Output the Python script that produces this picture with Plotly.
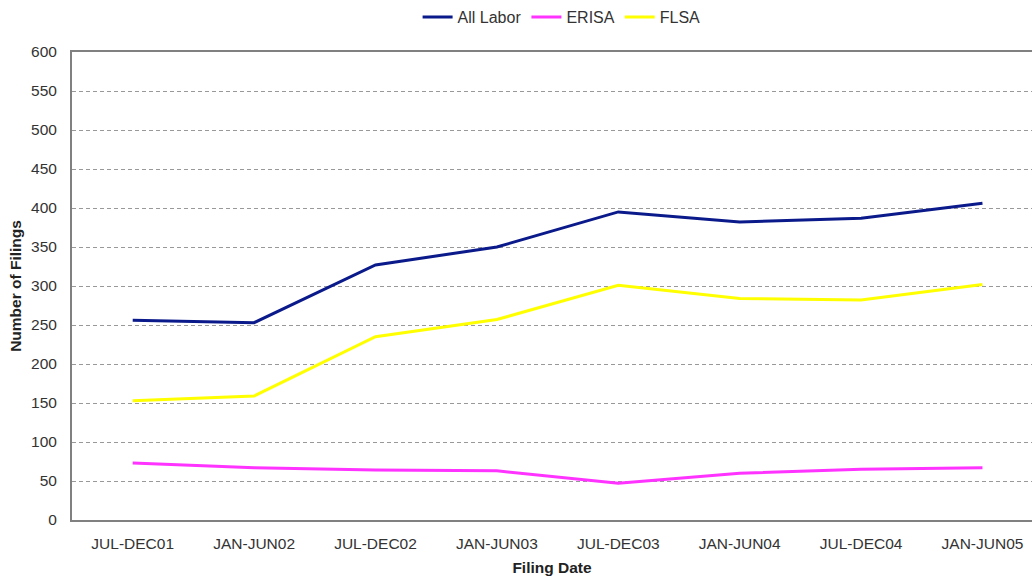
import plotly.graph_objects as go

categories = ["JUL-DEC01", "JAN-JUN02", "JUL-DEC02", "JAN-JUN03",
              "JUL-DEC03", "JAN-JUN04", "JUL-DEC04", "JAN-JUN05"]
all_labor = [256, 253, 327, 350, 395, 382, 387, 406]
erisa = [73, 67, 64, 63, 47, 60, 65, 67]
flsa = [153, 159, 235, 257, 301, 284, 282, 302]
y_ticks = list(range(0, 601, 50))

fig = go.Figure()
fig.add_trace(go.Scatter(x=categories, y=all_labor, name="All Labor", mode="lines",
                         line=dict(color="#0b1a8a", width=3)))
fig.add_trace(go.Scatter(x=categories, y=erisa, name="ERISA", mode="lines",
                         line=dict(color="#ff33ff", width=3)))
fig.add_trace(go.Scatter(x=categories, y=flsa, name="FLSA", mode="lines",
                         line=dict(color="#ffff00", width=3)))

font = dict(family="Liberation Sans, Arial, sans-serif", size=15.5, color="#333")
fig.update_layout(
    width=1032, height=580,
    margin=dict(l=72, r=0, t=52, b=60),
    paper_bgcolor="white", plot_bgcolor="white",
    font=font,
    showlegend=True,
    legend=dict(orientation="h", x=0.51, xanchor="center", y=1.0, yref="container",
                yanchor="top", font=dict(size=16), itemwidth=30, tracegroupgap=0),
    xaxis=dict(
        type="category", range=[-0.5, 7.408], showgrid=False,
        showline=True, linecolor="#808080", linewidth=2, mirror=True,
        ticks="", tickfont=dict(size=15.5), ticklabelstandoff=8,
        title=dict(text="<b>Filing Date</b>", font=dict(size=15.5, color="#222"), standoff=12),
    ),
    yaxis=dict(
        range=[0, 600], tickvals=y_ticks, showgrid=True, gridcolor="#999",
        griddash="4px,3px", gridwidth=1, zeroline=False,
        showline=True, linecolor="#808080", linewidth=2,
        ticks="", tickfont=dict(size=15.5), ticklabelstandoff=10,
        title=dict(text="<b>Number of Filings</b>", font=dict(size=15.5, color="#222"), standoff=6),
    ),
)
fig.write_html("out.html", config={"displayModeBar": False},
               post_script="document.body.style.margin='0';")
